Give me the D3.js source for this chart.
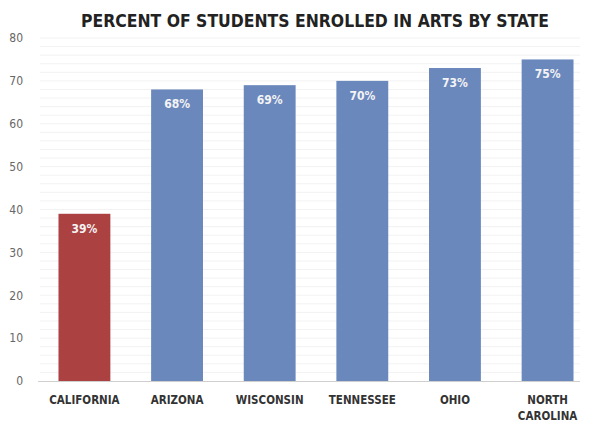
<!DOCTYPE html>
<html><head><meta charset="utf-8">
<script src="https://cdn.jsdelivr.net/npm/d3@7"></script>
<style>
html,body{margin:0;padding:0;background:#fff;}
svg{display:block;}
</style></head>
<body>
<script>
const states = ["CALIFORNIA","ARIZONA","WISCONSIN","TENNESSEE","OHIO","NORTH CAROLINA"];
const values = [39, 68, 69, 70, 73, 75];
const yTicks = [0,10,20,30,40,50,60,70,80];
const title = "PERCENT OF STUDENTS ENROLLED IN ARTS BY STATE";

const W = 590, H = 423;
const svg = d3.select("body").append("svg").attr("width", W).attr("height", H);

const x = d3.scaleBand().domain(states).range([52, 580]).paddingInner(0.44).paddingOuter(0.07);
const y = d3.scaleLinear().domain([0, 80]).range([381, 38]);

// minor gridlines every 2
const grid = d3.range(2, 81, 2);
svg.append("g").selectAll("line").data(grid).join("line")
  .attr("x1", 40).attr("x2", 580)
  .attr("y1", d => y(d)).attr("y2", d => y(d))
  .attr("stroke", "#f2f2f2").attr("stroke-width", 1);

// y axis labels
const yAxis = d3.axisLeft(y).tickValues(yTicks).tickSize(0).tickPadding(0);
const gy = svg.append("g").attr("transform", "translate(23,0)").call(yAxis);
gy.select(".domain").remove();
gy.selectAll("text").attr("font-family", "'DejaVu Sans Condensed', sans-serif")
  .attr("font-size", 12).attr("fill", "#666");

// bars
svg.append("g").selectAll("rect").data(values).join("rect")
  .attr("x", (d, i) => x(states[i]))
  .attr("width", x.bandwidth())
  .attr("y", d => y(d))
  .attr("height", d => y(0) - y(d))
  .attr("fill", (d, i) => i === 0 ? "#ac4141" : "#6b88bd");

// value labels
svg.append("g").selectAll("text").data(values).join("text")
  .attr("x", (d, i) => x(states[i]) + x.bandwidth() / 2)
  .attr("y", d => y(d) + 19)
  .attr("text-anchor", "middle")
  .attr("font-family", "'DejaVu Sans Condensed', sans-serif")
  .attr("font-weight", "bold").attr("font-size", 12).attr("fill", "#f4f4f4")
  .text(d => d + "%");

// baseline
svg.append("line").attr("x1", 38).attr("x2", 580).attr("y1", y(0) + 0.5).attr("y2", y(0) + 0.5)
  .attr("stroke", "#cfcfcf").attr("stroke-width", 1);

// x labels
const xAxis = d3.axisBottom(x).tickSize(0).tickPadding(0);
const gx = svg.append("g").attr("transform", "translate(0,381)").call(xAxis);
gx.select(".domain").remove();
gx.selectAll("text").each(function(d) {
  const t = d3.select(this).text("");
  t.attr("font-family", "'DejaVu Sans Condensed', sans-serif").attr("font-weight", "bold")
   .attr("font-size", 11.5).attr("fill", "#333").attr("dy", null).attr("y", 0);
  const words = d.split(" ");
  const lines = words.length > 1 ? [words[0], words.slice(1).join(" ")] : [d];
  lines.forEach((l, i) => t.append("tspan").attr("x", 0).attr("y", 23 + i * 16).text(l));
});

// title
svg.append("text").attr("x", 315).attr("y", 27).attr("text-anchor", "middle")
  .attr("font-family", "'DejaVu Sans Condensed', sans-serif").attr("font-weight", "bold")
  .attr("font-size", 18.5).attr("fill", "#222")
  .attr("textLength", 468).attr("lengthAdjust", "spacingAndGlyphs")
  .text(title);
</script>
</body></html>
